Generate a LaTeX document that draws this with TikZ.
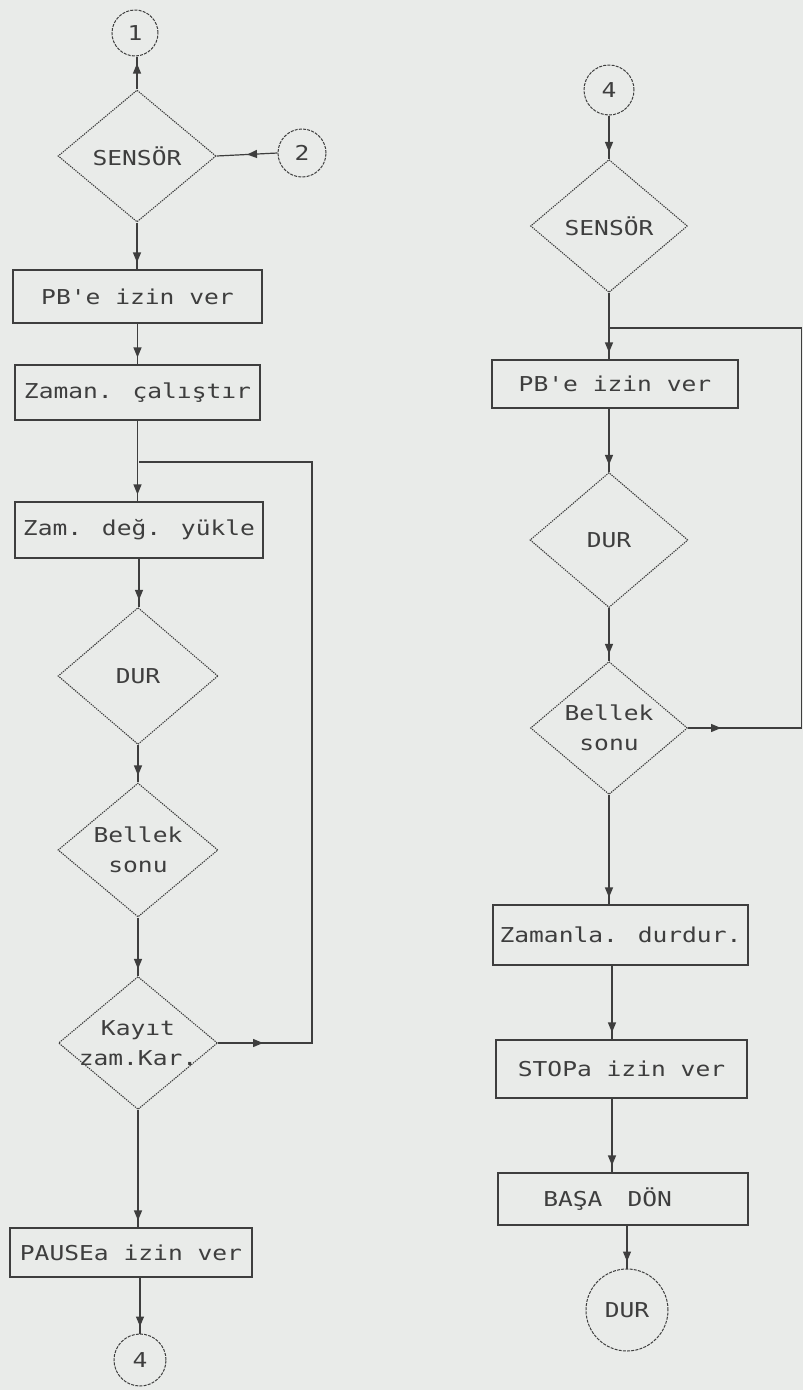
\documentclass[tikz,border=0pt]{standalone}
\usepackage{fontspec}
\newfontfamily\plotfont[FakeStretch=1.2]{DejaVu Sans Mono}
\usetikzlibrary{shapes.geometric,arrows.meta,decorations.markings}
\definecolor{paper}{RGB}{233,235,233}
\definecolor{ink}{RGB}{62,62,62}
\tikzset{
  txt/.style={font=\plotfont\fontsize{20.5}{30}\selectfont,text=ink,align=center},
  box/.style={txt,draw=ink,line width=1.1pt,rectangle,inner sep=0pt},
  dec/.style={txt,draw=ink,line width=1.1pt,dash pattern=on 1.3pt off 1pt,diamond,inner sep=-14pt},
  conn/.style={txt,draw=ink,line width=1pt,dash pattern=on 3pt off 1.2pt,circle,inner sep=0pt},
  wire/.style={draw=ink,line width=1.2pt},
  tipat/.style={postaction={decorate},decoration={markings,mark=at position #1 with {\arrow{Triangle[length=10pt,width=8pt]}}}},
}
\begin{document}
\begin{tikzpicture}[x=1pt,y=-1pt]
\useasboundingbox (0,0) rectangle (803,1390);
\fill[paper] (0,0) rectangle (803,1390);

% ---------- left column ----------
\node[conn,minimum size=46pt] (c1) at (135,33) {1};
\node[dec,minimum width=158pt,minimum height=132pt] (s1) at (137,156) {SENSÖR};
\node[conn,minimum size=48pt] (c2) at (302,153) {2};
\node[box,minimum width=249pt,minimum height=53pt] (pb1) at (137.5,296.5) {PB'e izin ver};
\node[box,minimum width=245pt,minimum height=55pt] (za1) at (137.5,392.5) {Zaman. çalıştır};
\node[box,minimum width=248pt,minimum height=56pt] (zd1) at (139,530) {Zam. değ. yükle};
\node[dec,minimum width=160pt,minimum height=137pt] (d1) at (138,676) {DUR};
\node[dec,minimum width=160pt,minimum height=134pt] (b1) at (138,850) {Bellek\\sonu};
\node[dec,minimum width=159pt,minimum height=133pt] (k1) at (138,1043) {Kayıt\\zam.Kar.};
\node[box,minimum width=242pt,minimum height=49pt] (pa1) at (131,1252.5) {PAUSEa izin ver};
\node[conn,minimum size=52pt] (c4a) at (140,1360) {4};

\coordinate (lr) at (312,1043);
\coordinate (lt) at (312,462);
\coordinate (lj) at (139,462);

\draw[wire,tipat=-7pt] (s1.north) -- (s1.north |- c1.south);
\draw[wire,tipat=0.5] (c2.west) -- (s1.east);
\draw[wire,tipat=-7pt] (s1.south) -- (s1.south |- pb1.north);
\draw[wire,tipat=-7pt] (pb1.south) -- (pb1.south |- za1.north);
\draw[wire,tipat=-7pt] (za1.south) -- (za1.south |- zd1.north);
\draw[wire,tipat=-7pt] (zd1.south) -- (zd1.south |- d1.north);
\draw[wire,tipat=-7pt] (d1.south) -- (b1.north);
\draw[wire,tipat=-7pt] (b1.south) -- (k1.north);
\draw[wire,tipat=-7pt] (k1.south) -- (k1.south |- pa1.north);
\draw[wire,tipat=-7pt] (pa1.south -| c4a.north) -- (c4a.north);
\draw[wire,tipat=45pt] (k1.east) -- (lr) -- (lt) -- (lj);

% ---------- right column ----------
\node[conn,minimum size=50pt] (c4b) at (609,90) {4};
\node[dec,minimum width=157pt,minimum height=133pt] (s2) at (609,226) {SENSÖR};
\node[box,minimum width=246pt,minimum height=48pt] (pb2) at (615,384) {PB'e izin ver};
\node[dec,minimum width=158pt,minimum height=135pt] (d2) at (609,540) {DUR};
\node[dec,minimum width=157pt,minimum height=133pt] (b2) at (609,728) {Bellek\\sonu};
\node[box,minimum width=255pt,minimum height=60pt] (zm2) at (620.5,935) {Zamanla. durdur.};
\node[box,minimum width=251pt,minimum height=58pt] (st2) at (621.5,1069) {STOPa izin ver};
\node[box,minimum width=250pt,minimum height=52pt] (bd2) at (623,1199) {BAŞA\hspace{0.5em} DÖN\hspace{1.5em}};
\node[conn,minimum size=82pt] (dur2) at (627,1310) {DUR};

\coordinate (rr) at (801.5,728);
\coordinate (rt) at (801.5,328);
\coordinate (rj) at (609,328);

\draw[wire,tipat=-7pt] (c4b.south) -- (s2.north);
\draw[wire,tipat=-7pt] (s2.south) -- (s2.south |- pb2.north);
\draw[wire,tipat=-7pt] (s2.south |- pb2.south) -- (d2.north);
\draw[wire,tipat=-7pt] (d2.south) -- (b2.north);
\draw[wire,tipat=-7pt] (b2.south) -- (b2.south |- zm2.north);
\draw[wire,tipat=-7pt] (612,965) coordinate (z2s) -- (z2s |- st2.north);
\draw[wire,tipat=-7pt] (612,1098) coordinate (s2s) -- (s2s |- bd2.north);
\draw[wire,tipat=-7pt] (dur2.north |- bd2.south) -- (dur2.north);
\draw[wire,tipat=33pt] (b2.east) -- (rr) -- (rt) -- (rj);
\end{tikzpicture}
\end{document}
